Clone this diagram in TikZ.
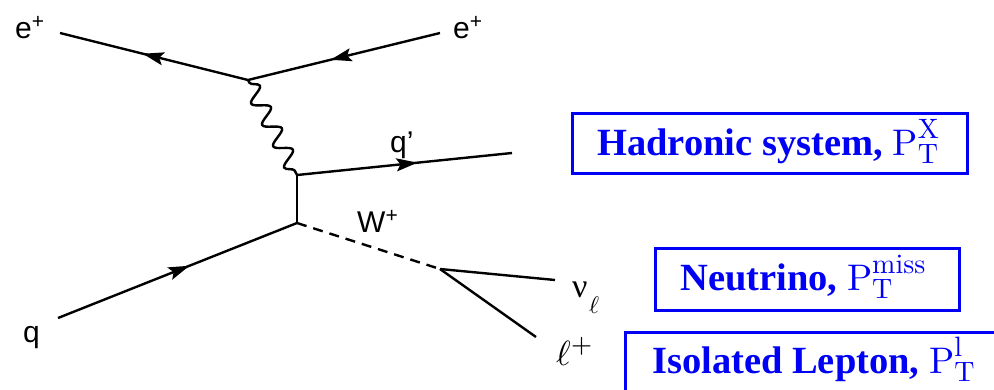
\documentclass[tikz,border=0pt]{standalone}
\usepackage{graphicx}
\usepackage{fontspec}
\setmainfont{Liberation Serif}
\newfontfamily\labfont{Liberation Sans}
\newfontfamily\cmten{lmroman10-regular.otf}
\usetikzlibrary{decorations.pathmorphing,decorations.markings,arrows.meta}
\definecolor{boxblue}{RGB}{0,0,245}
\newcommand\sx{\cmten\fontsize{28}{28}\selectfont}
\newcommand\PTlab[1]{{\cmten\fontsize{37}{40}\selectfont P}\sbox0{\sx #1}\sbox2{\sx T}%
  \ifdim\wd0>\wd2 \rlap{\raisebox{-8pt}{\usebox2}}\raisebox{17pt}{\usebox0}%
  \else \rlap{\raisebox{17pt}{\usebox0}}\raisebox{-8pt}{\usebox2}\fi}
\begin{document}
\begin{tikzpicture}[x=1pt,y=-1pt,
  fline/.style={line width=2.4pt, postaction={decorate},
    decoration={markings, mark=at position #1 with {\arrow{Stealth[length=21pt,width=13pt,inset=4pt]}}}},
  fline/.default=0.55,
  plain/.style={line width=2.4pt},
  wline/.style={line width=2.4pt, dash pattern=on 10pt off 7pt},
  photon/.style={line width=2.4pt, decorate,
    decoration={snake, segment length=24pt, amplitude=8pt, pre length=3pt, post length=3pt}},
  lab/.style={font=\labfont\fontsize{30}{32}\selectfont, inner sep=0pt, anchor=base west},
  mlab/.style={font=\fontsize{10}{12}\selectfont, inner sep=0pt, anchor=base west},
  bx/.style={draw=boxblue, line width=3pt, inner sep=0pt},
  bxtext/.style={text=boxblue, inner sep=0pt, anchor=base west,
    font=\bfseries\fontsize{38.5}{42}\selectfont}]
\useasboundingbox (0,0) rectangle (994,389);
\clip (0,0) rectangle (994,389);
\fill[white] (0,0) rectangle (994,389);
% vertices and end points
\coordinate (v1) at (248,80);
\coordinate (v2) at (297,175);
\coordinate (v3) at (297,223);
\coordinate (v4) at (440,269);
\coordinate (eL) at (60,33);
\coordinate (eR) at (440,33);
\coordinate (qp) at (512,153);
\coordinate (qi) at (58,318);
\coordinate (nu) at (555,280);
\coordinate (lp) at (536,337);
% lines
\draw[fline=0.56] (v1) -- (eL);
\draw[fline=0.57] (eR) -- (v1);
\draw[photon] (v1) -- (v2);
\draw[fline=0.56] (v2) -- (qp);
\draw[plain] (v2) -- (v3);
\draw[fline=0.55] (qi) -- (v3);
\draw[wline] (v3) -- (v4);
\draw[plain] (v4) -- (nu);
\draw[plain] (v4) -- (lp);
% labels
\node[lab] (leL) at (15,38) {e\textsuperscript{+}};
\node[lab] (leR) at (453,38) {e\textsuperscript{+}};
\node[lab] (lqp) at (390,152) {q\textquoteright};
\node[lab] (lW) at (357,232) {W\textsuperscript{+}};
\node[lab] (lq) at (23,342) {q};
\node[mlab] (lnu) at (572,297) {\scalebox{3.4}{ν}\kern1.5pt\raisebox{-16pt}{\scalebox{2.4}{$\ell$}}};
\node[mlab] (llp) at (556,365) {\scalebox{3.5}{$\ell^{+}$}};
% boxes
\node[bx, minimum width=395pt, minimum height=60pt] (hbox) at (769.5,143) {};
\node[bx, minimum width=304pt, minimum height=62pt] (nbox) at (807,279) {};
\node[bx, minimum width=380pt, minimum height=60pt] (lbox) at (815,362) {};
\node[bxtext] (htext) at (597,155) {Hadronic system, \PTlab{X}};
\node[bxtext] (ntext) at (680,290) {Neutrino, \PTlab{miss}};
\node[bxtext] (ltext) at (652,373) {Isolated Lepton, \PTlab{l}};
\end{tikzpicture}
\end{document}
